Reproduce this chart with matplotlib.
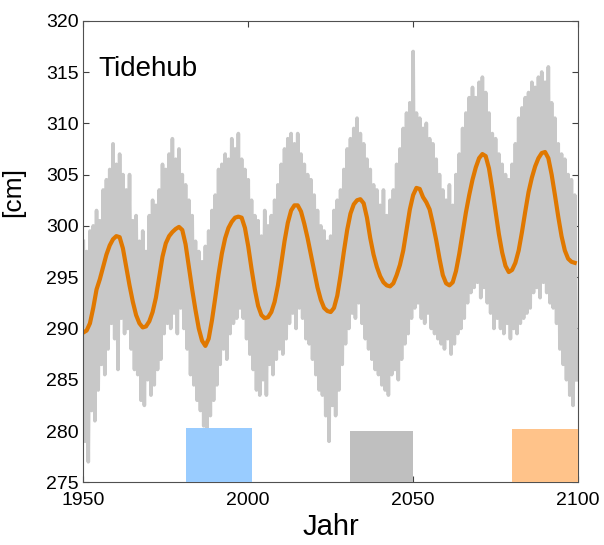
import numpy as np
import matplotlib
matplotlib.use("Agg")
import matplotlib.pyplot as plt
from matplotlib.patches import Rectangle

plt.rcParams['font.family'] = ['Liberation Sans', 'DejaVu Sans']

start_year = 1950

# smoothed tidal range (orange), one value per year from 1950
smooth = [
    289.6, 289.8, 290.5, 292.0, 293.8, 294.8, 296.0, 297.2, 298.1, 298.7,
    299.0, 298.9, 297.8, 296.0, 294.2, 292.6, 291.3, 290.5, 290.1, 290.2,
    290.7, 291.6, 293.0, 295.0, 297.0, 298.3, 299.0, 299.4, 299.7, 299.9,
    299.6, 298.2, 296.0, 293.8, 291.8, 290.0, 288.8, 288.3, 289.0, 290.8,
    293.0, 295.3, 297.3, 298.8, 299.8, 300.4, 300.8, 300.9, 300.8, 299.8,
    298.0, 295.8, 293.8, 292.2, 291.3, 291.0, 291.1, 291.6, 292.6, 294.2,
    296.3, 298.5, 300.3, 301.5, 302.0, 302.0, 301.4, 300.2, 298.8, 297.2,
    295.6, 294.0, 292.8, 292.0, 291.7, 291.6, 292.0, 293.2, 295.2, 297.5,
    299.6, 301.2, 302.1, 302.5, 302.6, 302.2, 300.8, 298.8, 297.2, 296.0,
    295.1, 294.5, 294.2, 294.1, 294.4, 295.2, 296.2, 297.6, 299.6, 301.6,
    303.0, 303.7, 303.6, 302.8, 302.3, 301.6, 300.2, 298.6, 296.8, 295.2,
    294.4, 294.2, 294.5, 295.6, 297.3, 299.3, 301.3, 303.0, 304.5, 305.7,
    306.6, 307.0, 306.8, 305.6, 303.6, 301.4, 299.2, 297.4, 296.1, 295.5,
    295.7, 296.4, 297.6, 299.4, 301.4, 303.3, 304.7, 305.8, 306.6, 307.1,
    307.2, 306.6, 305.0, 303.0, 300.9, 299.0, 297.6, 296.8, 296.5, 296.4,
]

# raw values (gray): yearly high and low
raw_high = [
    298.5, 297.5, 299.5, 300.0, 301.5, 300.5, 303.5, 304.5, 305.5, 308.0,
    306.0, 307.0, 305.0, 303.5, 305.0, 300.5, 301.0, 298.5, 299.5, 297.5,
    301.0, 302.5, 302.0, 303.5, 306.0, 305.5, 307.0, 308.5, 306.5, 307.5,
    305.0, 304.0, 302.5, 301.0, 298.5, 297.5, 296.5, 298.0, 299.5, 301.5,
    303.0, 305.5, 306.0, 307.0, 306.5, 308.5, 307.5, 309.0, 306.5, 305.5,
    304.5, 302.5, 301.0, 300.5, 299.0, 301.5, 300.0, 301.0, 302.5, 304.0,
    306.0, 307.5, 308.5, 309.0, 308.0, 309.0, 307.0, 306.0, 305.0, 304.5,
    303.0, 301.5, 300.0, 299.5, 298.5, 299.0, 301.5, 302.5, 303.5, 305.5,
    307.5, 308.5, 309.5, 310.5, 309.0, 308.0, 306.5, 305.5, 304.0, 303.5,
    302.0, 303.5, 301.0, 302.5, 303.5, 306.0, 307.5, 309.5, 311.0, 312.0,
    317.0, 311.0, 310.5, 309.5, 310.0, 308.5, 308.0, 306.5, 305.0, 303.5,
    302.5, 304.0, 302.0, 305.0, 307.0, 309.5, 311.0, 312.5, 313.5, 312.5,
    314.0, 314.5, 313.0, 311.0, 309.0, 308.5, 307.0, 306.0, 305.0, 304.5,
    306.0, 308.0, 310.5, 311.5, 312.5, 313.0, 314.0, 313.5, 314.5, 315.0,
    314.0, 315.5, 312.0, 310.5, 308.0, 307.0, 306.5, 305.0, 304.5, 303.0,
]
raw_low = [
    279.0, 277.0, 282.0, 281.0, 284.0, 286.5, 285.5, 288.0, 290.5, 289.0,
    286.0, 291.0, 289.5, 290.0, 288.0, 286.0, 285.5, 283.0, 282.5, 285.0,
    283.5, 284.5, 286.0, 287.0, 289.5, 290.5, 290.0, 291.5, 289.5, 292.0,
    290.0, 288.0, 285.5, 284.5, 283.0, 282.0, 280.5, 280.0, 281.5, 283.0,
    284.5, 286.5, 288.0, 287.0, 289.5, 290.5, 291.0, 292.0, 291.0, 289.0,
    287.5, 286.0, 284.0, 283.5, 285.0, 283.5, 286.5, 285.5, 287.0, 288.0,
    287.5, 289.0, 290.5, 291.5, 290.0, 292.0, 291.0, 289.0, 288.5, 287.0,
    285.5, 284.0, 283.5, 281.5, 279.0, 282.5, 281.5, 284.0, 286.5, 288.5,
    290.0, 291.5, 291.0, 292.5, 290.5, 289.0, 288.0, 287.0, 286.0, 285.5,
    284.5, 284.0, 283.5, 285.5, 286.0, 285.0, 287.0, 288.5, 289.5, 291.0,
    292.0, 292.5, 291.0, 290.5, 291.5, 290.0, 289.5, 289.0, 288.5, 288.0,
    289.0, 287.5, 288.5, 289.5, 290.0, 291.0, 292.5, 293.5, 294.0, 294.5,
    293.0, 294.0, 292.5, 291.5, 290.0, 291.0, 290.0, 289.5, 290.5, 289.0,
    290.0, 289.5, 290.5, 291.0, 291.5, 292.0, 293.5, 294.0, 293.0, 294.5,
    293.5, 292.5, 292.0, 290.5, 288.0, 286.5, 285.0, 283.5, 282.5, 285.0,
]

# reference periods shown as boxes at the bottom
periods = [(1981, 2001), (2031, 2050), (2080, 2100)]
period_tops = [280.3, 280.0, 280.2]
period_colors = ['#99ccff', '#bfbfbf', '#ffc38a']

years = np.arange(start_year, start_year + len(smooth))
raw_x = np.column_stack([years, years + 0.5]).ravel()
raw_y = np.column_stack([raw_high, raw_low]).ravel()

fig = plt.figure(figsize=(6.04, 5.45), dpi=100)
ax = fig.add_axes([0.138, 0.115, 0.819, 0.847])

ax.plot(raw_x, raw_y, color='#c8c8c8', lw=2.6)
ax.plot(years, smooth, color='#e07800', lw=3)

for (x0, x1), top, c in zip(periods, period_tops, period_colors):
    ax.add_patch(Rectangle((x0, 275), x1 - x0, top - 275, facecolor=c,
                           edgecolor='none', zorder=3))

ax.set_xlim(1950, 2100)
ax.set_ylim(275, 320)
ax.set_xticks([1950, 2000, 2050, 2100])
ax.set_yticks(np.arange(275, 321, 5))
ax.tick_params(direction='in', top=True, right=True, labelsize=14,
               length=4, color='#404040')
ax.tick_params(axis='x', pad=7)
for s in ax.spines.values():
    s.set_color('#505050')
    s.set_linewidth(0.8)

ax.set_xlabel('Jahr', fontsize=21, labelpad=3)
ax.set_ylabel('[cm]', fontsize=19)
ax.yaxis.set_label_coords(-0.118, 0.63)
ax.text(0.03, 0.88, 'Tidehub', transform=ax.transAxes, fontsize=20)

fig.savefig('out.png', dpi=100)
